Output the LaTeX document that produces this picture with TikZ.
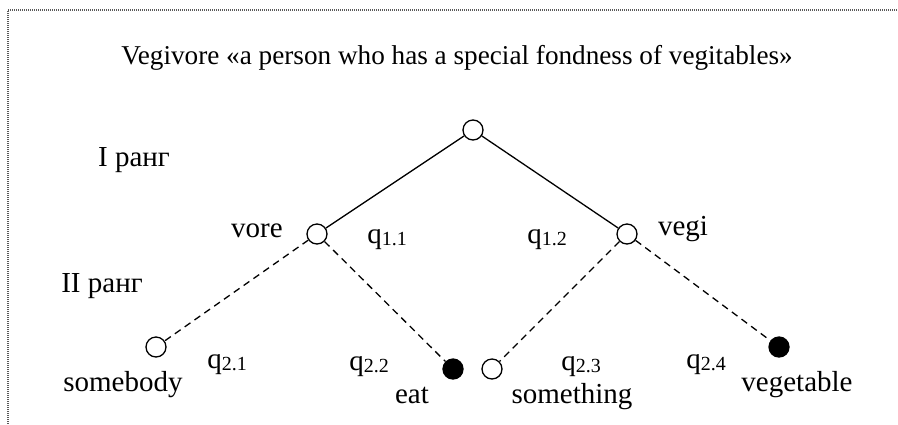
\documentclass[tikz,border=0pt]{standalone}
\usepackage{fontspec}
\setmainfont{Liberation Serif}
\usetikzlibrary{positioning}
\newcommand{\qidx}[2]{q\raisebox{-0.2ex}{\fontsize{10}{12}\selectfont #1.#2}}

\begin{document}
\begin{tikzpicture}[
    x=0.5pt, y=-0.5pt,
    font=\fontsize{14.5}{17}\selectfont,
    vert/.style={circle, draw, line width=0.65pt, inner sep=0pt, minimum size=10pt},
    leaf/.style={vert, fill=black},
    main/.style={line width=0.65pt},
    sub/.style={line width=0.65pt, dash pattern=on 3.5pt off 2.5pt},
    lbl/.style={anchor=base, inner sep=0pt},
]
\useasboundingbox (0,0) rectangle (898,424);

% --- frame ---
\draw[gray!70!black, line width=0.6pt, dash pattern=on 0.5pt off 0.5pt] (8,424) -- (8,10) -- (898,10);

% --- title ---
\node[lbl, font=\fontsize{13.6}{16}\selectfont] (title) at (457,64)
    {Vegivore «a person who has a special fondness of vegitables»};

% --- ranks ---
\node[lbl] (rank1) at (134,166) {I ранг};
\node[lbl] (rank2) at (102,292) {II ранг};

% --- tree ---
\node[vert] (root) at (473,130) {};
\node[vert] (vore) at (317,234) {};
\node[vert] (vegi) at (627,234) {};
\node[vert] (somebody) at (156,347) {};
\node[leaf] (eat) at (453,369) {};
\node[vert] (something) at (492,369) {};
\node[leaf] (vegetable) at (779,347) {};

\draw[main] (root) -- (vore);
\draw[main] (root) -- (vegi);
\draw[sub] (vore) -- (somebody);
\draw[sub] (vore) -- (eat);
\draw[sub] (vegi) -- (something);
\draw[sub] (vegi) -- (vegetable);

% --- words ---
\node[lbl] (voreT) at (257,237) {vore};
\node[lbl] (vegiT) at (683,235) {vegi};
\node[lbl] (somebodyT) at (123,391) {somebody};
\node[lbl] (eatT) at (412,403) {eat};
\node[lbl] (somethingT) at (572,403) {something};
\node[lbl] (vegetableT) at (797,391) {vegetable};

% --- weights ---
\node[lbl] (q11) at (387,243) {\qidx{1}{1}};
\node[lbl] (q12) at (547,243) {\qidx{1}{2}};
\node[lbl] (q21) at (227,368) {\qidx{2}{1}};
\node[lbl] (q22) at (369,370) {\qidx{2}{2}};
\node[lbl] (q23) at (581,370) {\qidx{2}{3}};
\node[lbl] (q24) at (706,368) {\qidx{2}{4}};

\end{tikzpicture}
\end{document}
